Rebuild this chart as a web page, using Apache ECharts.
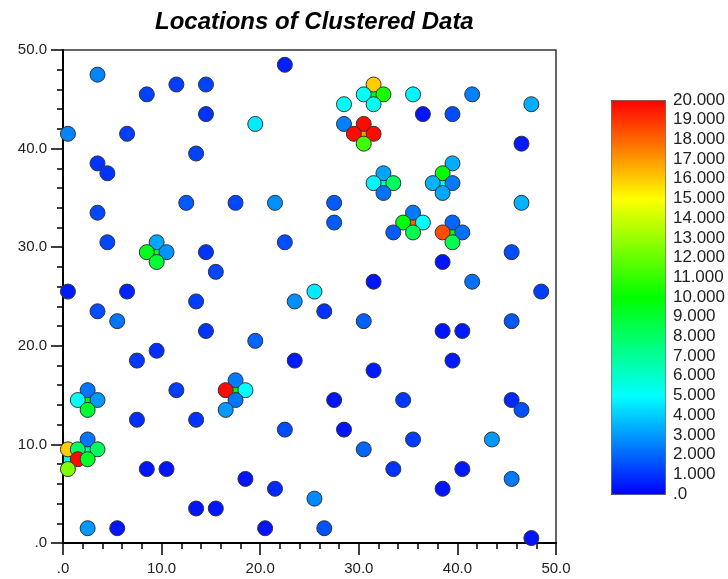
<!DOCTYPE html>
<html>
<head>
<meta charset="utf-8">
<script src="https://cdn.jsdelivr.net/npm/echarts@6/dist/echarts.min.js"></script>
<style>
html,body{margin:0;padding:0;background:#fff;}
#chart{width:728px;height:579px;}
</style>
</head>
<body>
<div id="chart"></div>
<script>
// Point locations and values (values in thousands)
const xs = [3.5,8.5,11.5,14.5,14.5,19.5,0.5,6.5,13.5,3.5,4.5,3.5,12.5,17.5,21.5,4.5,9.5,8.5,10.5,9.5,14.5,15.5,0.5,6.5,13.5,
  22.5,31.5,30.5,32.5,31.5,28.5,35.5,36.5,39.5,41.5,47.5,46.5,28.5,30.5,29.5,31.5,30.5,32.5,31.5,33.5,32.5,39.5,38.5,37.5,39.5,38.5,
  27.5,27.5,46.5,35.5,34.5,36.5,35.5,33.5,39.5,38.5,40.5,39.5,22.5,38.5,45.5,31.5,41.5,48.5,23.5,25.5,
  3.5,5.5,14.5,19.5,9.5,7.5,11.5,2.5,1.5,3.5,2.5,7.5,13.5,17.5,16.5,18.5,17.5,16.5,2.5,0.5,1.5,3.5,1.5,2.5,0.5,
  8.5,10.5,18.5,21.5,13.5,15.5,2.5,5.5,20.5,26.5,30.5,38.5,40.5,45.5,23.5,31.5,39.5,27.5,34.5,45.5,46.5,22.5,28.5,
  35.5,43.5,30.5,33.5,40.5,45.5,38.5,25.5,26.5,47.5];
const ys = [47.5,45.5,46.5,46.5,43.5,42.5,41.5,41.5,39.5,38.5,37.5,33.5,34.5,34.5,34.5,30.5,30.5,29.5,29.5,28.5,29.5,27.5,25.5,25.5,24.5,
  48.5,46.5,45.5,45.5,44.5,44.5,45.5,43.5,43.5,45.5,44.5,40.5,42.5,42.5,41.5,41.5,40.5,37.5,36.5,36.5,35.5,38.5,37.5,36.5,36.5,35.5,
  34.5,32.5,34.5,33.5,32.5,32.5,31.5,31.5,32.5,31.5,31.5,30.5,30.5,28.5,29.5,26.5,26.5,25.5,24.5,25.5,
  23.5,22.5,21.5,20.5,19.5,18.5,15.5,15.5,14.5,14.5,13.5,12.5,12.5,16.5,15.5,15.5,14.5,13.5,10.5,9.5,9.5,9.5,8.5,8.5,7.5,
  7.5,7.5,6.5,5.5,3.5,3.5,1.5,1.5,1.5,23.5,22.5,21.5,21.5,22.5,18.5,17.5,18.5,14.5,14.5,14.5,13.5,11.5,11.5,
  10.5,10.5,9.5,7.5,7.5,6.5,5.5,4.5,1.5,0.5];
const vals = [2.6,1.3,1.2,1.3,1.0,4.6,2.6,1.2,1.3,1.0,1.0,1.4,1.8,1.4,2.8,1.4,3.3,9.5,2.9,9.0,1.0,1.4,0.5,0.7,1.2,
  0.6,16.0,5.2,10.5,5.3,5.0,4.8,0.4,1.5,2.5,3.4,0.5,2.5,19.8,19.8,19.8,11.2,3.2,4.8,8.2,2.2,3.4,10.0,3.5,2.4,3.3,
  1.8,1.8,3.5,2.4,9.8,5.0,8.5,1.8,2.0,18.5,2.2,8.5,1.5,0.4,1.5,0.4,2.2,1.2,2.8,4.6,
  1.5,2.3,1.0,2.0,0.9,1.1,1.2,2.3,5.0,3.0,9.0,0.9,1.0,2.4,19.8,5.0,2.3,3.0,2.3,16.0,8.0,8.2,19.8,9.2,12.5,
  0.4,0.4,0.4,0.8,0.4,0.4,3.0,0.4,0.4,1.0,1.9,0.4,0.5,1.7,0.5,0.5,0.5,0.4,1.1,0.8,1.6,1.5,0.4,
  1.2,3.0,2.0,1.0,0.5,2.4,0.4,2.7,1.6,0.4];
// Cluster centre cells (small squares)
const cxs = [9.5,30.5,31.5,32.5,38.5,35.5,39.5,2.5,17.5,2.5,0.5];
const cys = [29.5,41.5,45.5,36.5,36.5,32.5,31.5,14.5,15.5,9.5,8.5];
const cvals = [9.0,17.0,9.5,6.0,5.0,18.0,10.0,10.0,10.0,7.0,5.5];
// Tick labels
const axisTicks = [0,10,20,30,40,50];
const axisTickLabels = ['.0','10.0','20.0','30.0','40.0','50.0'];
const barTicks = [0,1,2,3,4,5,6,7,8,9,10,11,12,13,14,15,16,17,18,19,20];
const barTickLabels = ['.0','1.000','2.000','3.000','4.000','5.000','6.000','7.000','8.000','9.000','10.000',
  '11.000','12.000','13.000','14.000','15.000','16.000','17.000','18.000','19.000','20.000'];
const titleText = 'Locations of Clustered Data';

const pts = xs.map((x,i)=>[x, ys[i], vals[i]]);
const ctr = cxs.map((x,i)=>[x, cys[i], cvals[i]]);
const fmtAxis = v => { const i = axisTicks.indexOf(v); return i>=0 ? axisTickLabels[i] : ''; };
const fmtBar = v => { const i = barTicks.indexOf(v); return i>=0 ? barTickLabels[i] : ''; };
const FONT = 'Liberation Sans';

const chart = echarts.init(document.getElementById('chart'), null, {renderer:'canvas'});
chart.setOption({
  animation:false,
  backgroundColor:'#fff',
  title:{text:titleText, left:155, top:10, padding:0,
    textStyle:{fontFamily:FONT, fontSize:24, fontWeight:'bold', fontStyle:'italic', color:'#000'}},
  grid:[
    {left:63, top:50, width:493, height:493, show:true, borderColor:'#333', borderWidth:1.5, backgroundColor:'transparent'},
    {left:611, top:100, width:54, height:394, show:false}
  ],
  xAxis:[
    {type:'value', gridIndex:0, min:0, max:50, interval:10,
      axisLine:{onZero:false, lineStyle:{color:'#000', width:2}},
      axisTick:{length:12, lineStyle:{color:'#000', width:1.5}},
      minorTick:{show:true, splitNumber:5, length:6, lineStyle:{color:'#000', width:1.5}},
      splitLine:{show:false},
      axisLabel:{margin:18, fontFamily:FONT, fontSize:15, color:'#222', formatter:fmtAxis}},
    {type:'value', gridIndex:1, show:false, min:0, max:1}
  ],
  yAxis:[
    {type:'value', gridIndex:0, min:0, max:50, interval:10,
      axisLine:{onZero:false, lineStyle:{color:'#000', width:2}},
      axisTick:{length:12, lineStyle:{color:'#000', width:1.5}},
      minorTick:{show:true, splitNumber:5, length:6, lineStyle:{color:'#000', width:1.5}},
      splitLine:{show:false},
      axisLabel:{margin:16, fontFamily:FONT, fontSize:15, color:'#222', formatter:fmtAxis,
        verticalAlign:'middle', padding:[0,0,10,0]}},
    {type:'value', gridIndex:1, position:'right', min:0, max:20, interval:1,
      axisLine:{show:false},
      axisTick:{show:true, length:6, lineStyle:{color:'#444', width:1}},
      splitLine:{show:false},
      axisLabel:{margin:8, fontFamily:FONT, fontSize:17, color:'#222', formatter:fmtBar,
        verticalAlign:'middle', padding:[0,0,15,0]}}
  ],
  visualMap:{type:'continuous', min:0, max:20, seriesIndex:[0,1], dimension:2,
    inRange:{color:['#0000ff','#00ffff','#00ff00','#ffff00','#ff0000']},
    left:611, top:100, itemWidth:54, itemHeight:394, padding:0, calculable:false,
    hoverLink:false, borderColor:'#555', borderWidth:1},
  series:[
    {type:'scatter', xAxisIndex:0, yAxisIndex:0, data:ctr, symbol:'rect', symbolSize:8, z:1,
      itemStyle:{borderWidth:0, opacity:1}},
    {type:'scatter', xAxisIndex:0, yAxisIndex:0, data:pts, symbol:'circle', symbolSize:15, z:2,
      itemStyle:{borderColor:'#333', borderWidth:1, opacity:1}}
  ]
});
</script>
</body>
</html>
